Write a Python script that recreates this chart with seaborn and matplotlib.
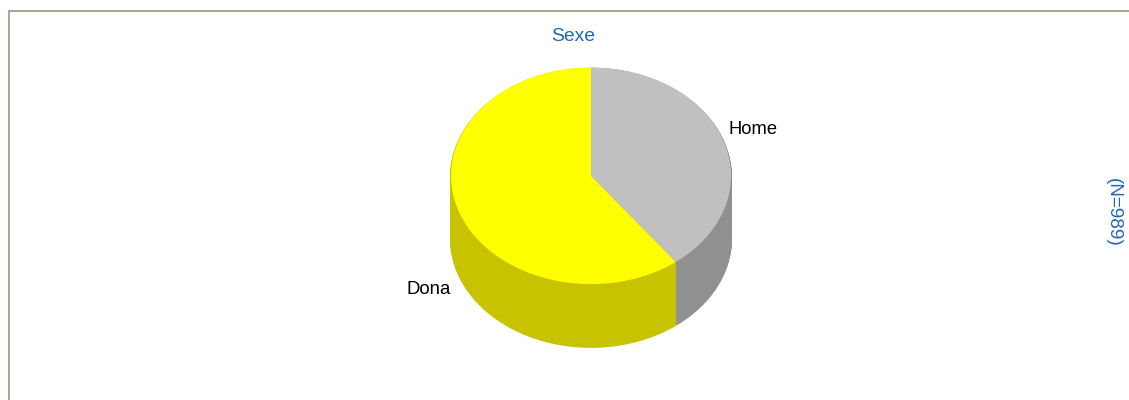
import matplotlib
matplotlib.use("Agg")
import matplotlib.pyplot as plt
from matplotlib.patches import Rectangle
import seaborn as sns

# Data
categories = ["Home", "Dona"]
counts = [392, 597]
chart_title = "Sexe"
sample_label = "(N=989)"

# Styles
top_colors = sns.color_palette(["#C0C0C0", "#FFFF00"])
side_colors = sns.color_palette(["#909090", "#C7C300"])
BLUE = "#1F66B5"
FRAME = "#ACA899"

W, H = 1129, 400
CX, CY, RX, RY, DEPTH = 591, 175.8, 140, 108.3, 63

sns.set_theme(style="white")
plt.rcParams["font.family"] = ["Liberation Sans", "DejaVu Sans"]

fig = plt.figure(figsize=(W / 100, H / 100), dpi=100, facecolor="white")

# Outer panel frame: only top and left edges are visible
frame = fig.add_axes([9 / W, -0.01, 1.0, (H - 11) / H + 0.01])
frame.set(xticks=[], yticks=[])
sns.despine(ax=frame, top=False, left=False, right=True, bottom=True)
for side in ("top", "left"):
    frame.spines[side].set_color(FRAME)
    frame.spines[side].set_linewidth(1.5)

# Pie axes fills the figure; one data unit equals the pie radius on each axis
ax = fig.add_axes([0, 0, 1, 1])
ax.patch.set_alpha(0)

# Side layers only show below the pie's horizontal midline
below_mid = Rectangle((-10, -10), 20, 10, transform=ax.transData)


def draw_layer(offset_px, colors, radius, clip=None):
    wedges, _ = ax.pie(counts, colors=colors, startangle=90, counterclock=False,
                       radius=radius, center=(0, -offset_px / RY),
                       wedgeprops={"linewidth": 0, "antialiased": True})
    if clip is not None:
        for wedge in wedges:
            wedge.set_clip_path(clip)


for step in range(DEPTH, 0, -1):
    draw_layer(step, side_colors, 141 / RX, below_mid)
draw_layer(0, top_colors, 1)

ax.set_aspect("auto")
ax.set_xlim(-CX / RX, (W - CX) / RX)
ax.set_ylim(-(H - CY) / RY, CY / RY)
ax.axis("off")

# Text placed in pixels measured from the top-left corner
def put(x, y, s, **kw):
    fig.text(x / W, 1 - y / H, s, **kw)


put(573, 36.5, chart_title, color=BLUE, fontsize=13.9, ha="center", va="center")
put(728, 130, categories[0], color="black", fontsize=13.2, ha="left", va="center")
put(406, 290, categories[1], color="black", fontsize=13.4, ha="left", va="center")
put(1113, 212, sample_label, color=BLUE, fontsize=13.6, rotation=270,
    ha="center", va="center")

fig.savefig("out.png", dpi=100, facecolor="white")
